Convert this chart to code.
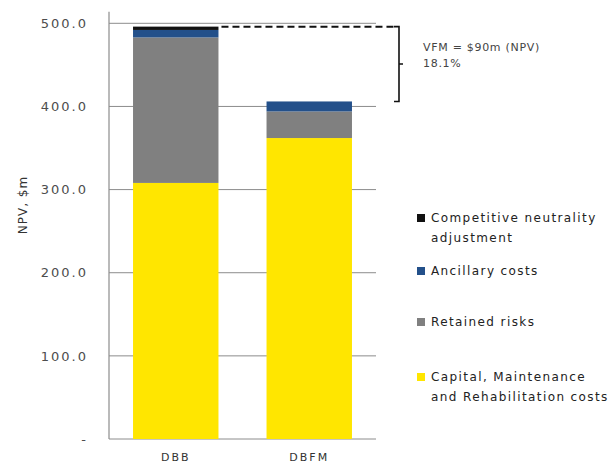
<!DOCTYPE html>
<html>
  <head>
    <meta charset="utf-8" />
    <style>
      body {
        margin: 0;
        background: #fff;
        font-family: "DejaVu Sans", sans-serif;
      }
      svg {
        display: block;
      }
    </style>
    <script src="https://cdn.jsdelivr.net/npm/d3@7"></script>
  </head>
  <body>
    <div id="chart"></div>
    <script>
      // values, NPV in $m
      const categories = ["DBB", "DBFM"];
      const seriesKeys = ["capital", "risks", "ancillary", "neutrality"];
      const capital = [308, 362];
      const risks = [175, 32];
      const ancillary = [9, 12];
      const neutrality = [4, 0];
      const yTicks = [0, 100, 200, 300, 400, 500];
      const vfmValue = 90;
      const vfmPct = 18.1;

      // legend, listed top to bottom
      const legendKeys = ["neutrality", "ancillary", "risks", "capital"];
      const legendLabels = [
        ["Competitive neutrality", "adjustment"],
        ["Ancillary costs"],
        ["Retained risks"],
        ["Capital, Maintenance", "and Rehabilitation costs"],
      ];

      const width = 613,
        height = 468;
      const margin = { left: 109, right: 237, top: 23.3, bottom: 29 };

      const colors = {
        capital: "#ffe600",
        risks: "#808080",
        ancillary: "#23508a",
        neutrality: "#111111",
      };

      const rows = categories.map((c, i) => ({
        cat: c,
        capital: capital[i],
        risks: risks[i],
        ancillary: ancillary[i],
        neutrality: neutrality[i],
      }));
      const stacked = d3.stack().keys(seriesKeys)(rows);
      const totals = rows.map((r) => d3.sum(seriesKeys, (k) => r[k]));

      const x = d3
        .scaleBand()
        .domain(categories)
        .range([margin.left, width - margin.right])
        .paddingInner(0.36)
        .paddingOuter(0.18);

      const y = d3
        .scaleLinear()
        .domain([0, 500])
        .range([height - margin.bottom, margin.top]);

      const svg = d3
        .select("#chart")
        .append("svg")
        .attr("width", width)
        .attr("height", height)
        .attr("viewBox", [0, 0, width, height]);

      // gridlines
      svg
        .append("g")
        .selectAll("line")
        .data(yTicks)
        .join("line")
        .attr("x1", margin.left)
        .attr("x2", width - margin.right)
        .attr("y1", (d) => y(d))
        .attr("y2", (d) => y(d))
        .attr("stroke", "#8c8c8c")
        .attr("stroke-width", 1);

      // bars
      svg
        .append("g")
        .selectAll("g")
        .data(stacked)
        .join("g")
        .attr("fill", (s) => colors[s.key])
        .selectAll("rect")
        .data((s) => s)
        .join("rect")
        .attr("x", (d) => x(d.data.cat))
        .attr("width", x.bandwidth())
        .attr("y", (d) => y(d[1]))
        .attr("height", (d) => y(d[0]) - y(d[1]));

      // left axis line
      svg
        .append("line")
        .attr("x1", margin.left)
        .attr("x2", margin.left)
        .attr("y1", y(514))
        .attr("y2", y(0))
        .attr("stroke", "#8c8c8c")
        .attr("stroke-width", 1.2);

      // y tick labels
      svg
        .append("g")
        .selectAll("text")
        .data(yTicks)
        .join("text")
        .attr("x", 88)
        .attr("y", (d) => y(d))
        .attr("dy", "0.36em")
        .attr("text-anchor", "end")
        .attr("fill", "#4d4d4d")
        .attr("font-size", 13)
        .attr("letter-spacing", 2)
        .text((d) => (d === 0 ? "-" : d3.format(".1f")(d)));

      // y label
      svg
        .append("text")
        .attr("transform", "translate(27,205) rotate(-90)")
        .attr("text-anchor", "middle")
        .attr("fill", "#333")
        .attr("font-size", 12)
        .attr("letter-spacing", 1)
        .text("NPV, $m");

      // x labels
      svg
        .append("g")
        .selectAll("text")
        .data(categories)
        .join("text")
        .attr("x", (d) => x(d) + x.bandwidth() / 2)
        .attr("y", 461)
        .attr("text-anchor", "middle")
        .attr("fill", "#333")
        .attr("font-size", 11)
        .attr("letter-spacing", 2)
        .text((d) => d);

      // VFM annotation: dashed line and bracket
      const yHi = y(totals[0]),
        yLo = y(totals[1]);
      const bx = 399;
      svg
        .append("line")
        .attr("x1", x("DBB") + x.bandwidth() + 3)
        .attr("x2", bx - 3)
        .attr("y1", yHi)
        .attr("y2", yHi)
        .attr("stroke", "#111")
        .attr("stroke-width", 2)
        .attr("stroke-dasharray", "7,4");

      svg
        .append("path")
        .attr(
          "d",
          `M${bx - 5},${yHi}H${bx}V${yLo}H${bx - 5}M${bx},${(yHi + yLo) / 2}h4`
        )
        .attr("fill", "none")
        .attr("stroke", "#111")
        .attr("stroke-width", 1.6);

      const note = svg
        .append("text")
        .attr("fill", "#444")
        .attr("font-size", 11)
        .attr("letter-spacing", 0.7);
      note
        .append("tspan")
        .attr("x", 423)
        .attr("y", 51)
        .text(`VFM = $${vfmValue}m (NPV)`);
      note
        .append("tspan")
        .attr("x", 423)
        .attr("y", 67)
        .text(`${vfmPct}%`);

      // legend
      const legendY = [218, 271, 322, 377];
      const legend = svg
        .append("g")
        .selectAll("g")
        .data(legendKeys)
        .join("g")
        .attr("transform", (d, i) => `translate(417,${legendY[i]})`);

      legend
        .append("rect")
        .attr("x", 0)
        .attr("y", -4)
        .attr("width", 8)
        .attr("height", 8)
        .attr("fill", (d) => colors[d]);

      legend
        .append("text")
        .attr("fill", "#222")
        .attr("font-size", 12)
        .attr("letter-spacing", 1.4)
        .selectAll("tspan")
        .data((d, i) => legendLabels[i])
        .join("tspan")
        .attr("x", 14)
        .attr("y", (d, j) => j * 20)
        .attr("dy", "0.36em")
        .text((d) => d);
    </script>
  </body>
</html>
